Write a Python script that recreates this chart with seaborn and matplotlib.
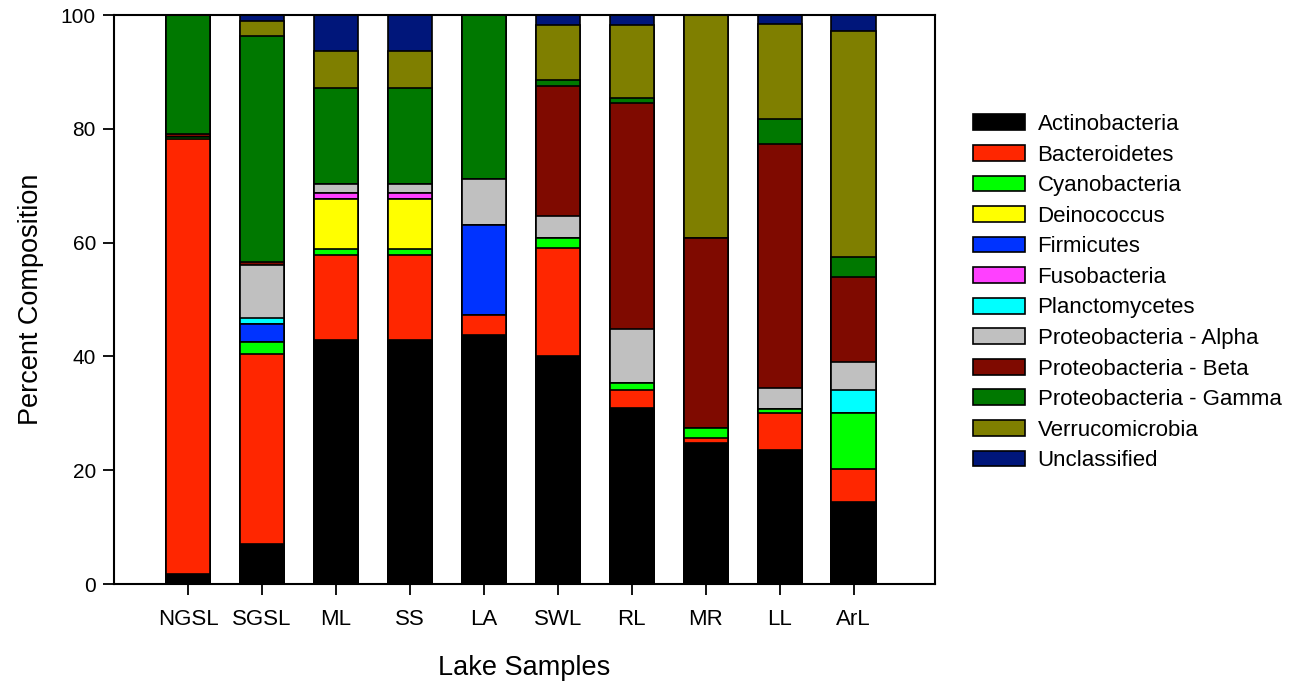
import numpy as np
import pandas as pd
import matplotlib
matplotlib.use("Agg")
import matplotlib.pyplot as plt
import seaborn as sns
from matplotlib.patches import Patch

lakes = ["NGSL", "SGSL", "ML", "SS", "LA", "SWL", "RL", "MR", "LL", "ArL"]

# Percent composition of each taxon per lake sample
actinobacteria     = [1.7, 7.0, 42.8, 42.8, 43.7, 40.1, 31.0, 24.7, 23.6, 14.4]
bacteroidetes      = [76.5, 33.5, 15.1, 15.1, 3.5, 19.0, 3.1, 0.9, 6.4, 5.9]
cyanobacteria      = [0.4, 2.0, 1.0, 1.0, 0.0, 1.7, 1.3, 1.9, 0.7, 9.8]
deinococcus        = [0.0, 0.0, 8.7, 8.7, 0.0, 0.0, 0.0, 0.0, 0.0, 0.0]
firmicutes         = [0.0, 3.2, 0.0, 0.0, 15.9, 0.0, 0.0, 0.0, 0.0, 0.0]
fusobacteria       = [0.0, 0.0, 1.2, 1.2, 0.0, 0.0, 0.0, 0.0, 0.0, 0.0]
planctomycetes     = [0.0, 1.1, 0.0, 0.0, 0.0, 0.0, 0.0, 0.0, 0.0, 4.0]
proteo_alpha       = [0.0, 9.2, 1.5, 1.5, 8.0, 3.9, 9.5, 0.0, 3.7, 5.0]
proteo_beta        = [0.5, 0.6, 0.0, 0.0, 0.0, 22.8, 39.7, 33.4, 42.9, 14.9]
proteo_gamma       = [20.9, 39.7, 16.9, 16.9, 28.9, 1.0, 0.8, 0.0, 4.5, 3.5]
verrucomicrobia    = [0.0, 2.6, 6.4, 6.4, 0.0, 9.8, 12.8, 39.1, 16.6, 39.7]
unclassified       = [0.0, 1.1, 6.4, 6.4, 0.0, 1.7, 1.8, 0.0, 1.6, 2.8]

taxa = ["Actinobacteria", "Bacteroidetes", "Cyanobacteria", "Deinococcus",
        "Firmicutes", "Fusobacteria", "Planctomycetes", "Proteobacteria - Alpha",
        "Proteobacteria - Beta", "Proteobacteria - Gamma", "Verrucomicrobia",
        "Unclassified"]
values = [actinobacteria, bacteroidetes, cyanobacteria, deinococcus, firmicutes,
          fusobacteria, planctomycetes, proteo_alpha, proteo_beta, proteo_gamma,
          verrucomicrobia, unclassified]
colors = ["#000000", "#FF2600", "#00FF00", "#FFFF00", "#0033FF", "#FF40FF",
          "#00FFFF", "#C0C0C0", "#7F0A00", "#007800", "#7F7F00", "#00167A"]

sns.set_style("white")
plt.rcParams["font.family"] = ["Liberation Sans", "DejaVu Sans"]
plt.rcParams["text.color"] = "black"
plt.rcParams["axes.labelcolor"] = "black"

fig = plt.figure(figsize=(12.94, 6.83), dpi=100)
ax = fig.add_axes([0.0881, 0.1449, 0.6345, 0.8331])

df = pd.DataFrame(np.array(values).T, columns=taxa)
df.insert(0, "Lake", lakes)
cum = df[taxa].cumsum(axis=1)

# Stack by drawing cumulative totals from the top taxon down
for name, col in reversed(list(zip(taxa, colors))):
    sns.barplot(x=df["Lake"], y=cum[name], color=col, order=lakes,
                width=0.6, edgecolor="black", linewidth=1.2, ax=ax,
                saturation=1)

ax.set_xlim(-1.0, 10.1)
ax.set_ylim(0, 100)
ax.set_yticks([0, 20, 40, 60, 80, 100])
ax.tick_params(axis="both", which="major", bottom=True, left=True,
               direction="out", length=8, width=1.3, color="black",
               labelcolor="black")
ax.tick_params(axis="y", labelsize=15, pad=5)
ax.tick_params(axis="x", labelsize=16, pad=10)
for s in ax.spines.values():
    s.set_visible(True)
    s.set_color("black")
    s.set_linewidth(1.5)

ax.set_xlabel("Lake Samples", fontsize=19.5, labelpad=18)
ax.set_ylabel("Percent Composition", fontsize=19.5, labelpad=12)

handles = [Patch(facecolor=c, edgecolor="black", linewidth=1.2, label=t)
           for t, c in zip(taxa, colors)]
fig.legend(handles=handles, loc="center left", bbox_to_anchor=(0.752, 0.5715),
           frameon=False, fontsize=16, handlelength=2.35, handleheight=0.72,
           labelspacing=0.43, handletextpad=0.55, borderaxespad=0, borderpad=0)

fig.savefig("out.png", dpi=100)
